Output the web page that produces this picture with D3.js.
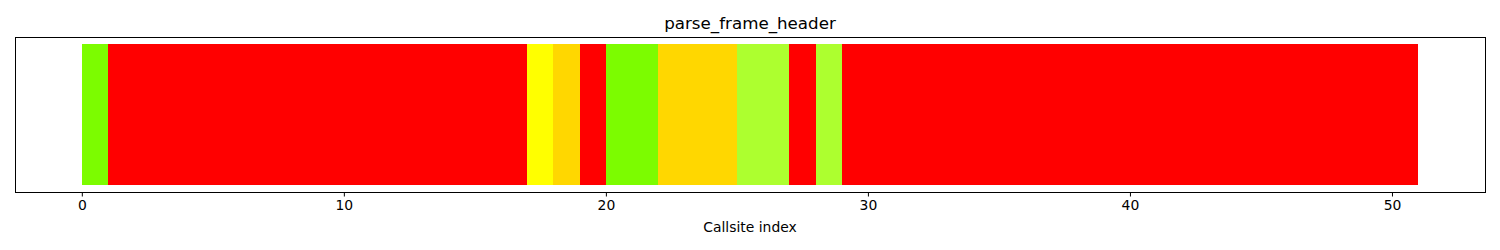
<!DOCTYPE html>
<html>
<head>
<meta charset="utf-8">
<script src="https://cdn.jsdelivr.net/npm/d3@7"></script>
<style>
  body { margin: 0; background: #fff; }
  svg { display: block; font-family: "DejaVu Sans", sans-serif; }
</style>
</head>
<body>
<div id="chart"></div>
<script>
// One coloured cell per callsite, left to right.
const callsites = d3.range(51);
const cellColors = [
  '#7cfc00',
  '#ff0000', '#ff0000', '#ff0000', '#ff0000', '#ff0000', '#ff0000', '#ff0000', '#ff0000',
  '#ff0000', '#ff0000', '#ff0000', '#ff0000', '#ff0000', '#ff0000', '#ff0000', '#ff0000',
  '#ffff00', '#ffd700', '#ff0000',
  '#7cfc00', '#7cfc00',
  '#ffd700', '#ffd700', '#ffd700',
  '#adff2f', '#adff2f',
  '#ff0000', '#adff2f',
  '#ff0000', '#ff0000', '#ff0000', '#ff0000', '#ff0000', '#ff0000', '#ff0000', '#ff0000',
  '#ff0000', '#ff0000', '#ff0000', '#ff0000', '#ff0000', '#ff0000', '#ff0000', '#ff0000',
  '#ff0000', '#ff0000', '#ff0000', '#ff0000', '#ff0000', '#ff0000'
];
const xTicks = [0, 10, 20, 30, 40, 50];
const chartTitle = 'parse_frame_header';
const xLabel = 'Callsite index';

const width = 1500, height = 250;
const margin = { top: 37, right: 15, bottom: 58, left: 15 };
const innerW = width - margin.left - margin.right;
const innerH = height - margin.top - margin.bottom;

// matplotlib-style 5% padding around the data extent
const n = callsites.length;
const x = d3.scaleLinear().domain([-0.05 * n, n * 1.05]).range([0, innerW]);
const y = d3.scaleLinear().domain([-0.05, 1.05]).range([innerH, 0]);

const svg = d3.select('#chart').append('svg').attr('width', width).attr('height', height);
const root = svg.append('g').attr('transform', `translate(${margin.left},${margin.top})`);

root.selectAll('.cell').data(callsites).enter().append('rect')
  .attr('x', d => x(d)).attr('y', y(1))
  .attr('width', d => x(d + 1) - x(d)).attr('height', y(0) - y(1))
  .attr('fill', d => cellColors[d])
  .attr('shape-rendering', 'crispEdges');

root.append('rect').attr('width', innerW).attr('height', innerH)
  .attr('fill', 'none').attr('stroke', '#000').attr('stroke-width', 1)
  .attr('shape-rendering', 'crispEdges');

const xAxis = root.append('g').attr('transform', `translate(0,${innerH})`)
  .call(d3.axisBottom(x).tickValues(xTicks).tickFormat(d3.format('d')).tickSize(4.5).tickPadding(4));
xAxis.select('.domain').remove();
xAxis.selectAll('text').attr('font-size', 13.9).attr('font-family', 'DejaVu Sans').attr('fill', '#000');
xAxis.selectAll('line').attr('stroke', '#000');

svg.append('text').attr('x', margin.left + innerW / 2).attr('y', 29)
  .attr('text-anchor', 'middle').attr('font-size', 16.7).text(chartTitle);

svg.append('text').attr('x', margin.left + innerW / 2).attr('y', 232)
  .attr('text-anchor', 'middle').attr('font-size', 13.9).text(xLabel);
</script>
</body>
</html>
